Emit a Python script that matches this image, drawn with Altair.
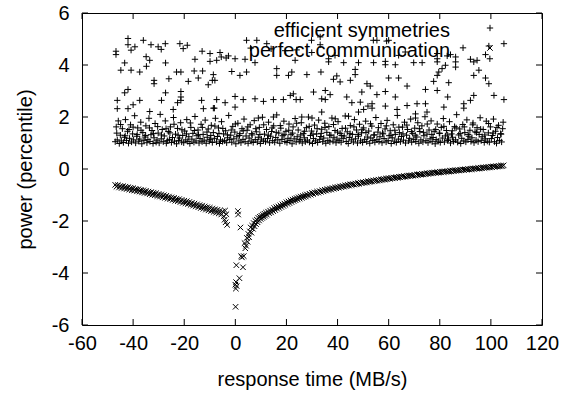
import altair as alt
import pandas as pd

x_ticks = [-60, -40, -20, 0, 20, 40, 60, 80, 100, 120]
y_ticks = [-6, -4, -2, 0, 2, 4, 6]
legend_labels = ["efficient symmetries", "perfect communication"]

# "efficient symmetries": sparse upper points
sym_upper = [
    (-42, 5.02), (-42, 4.78), (-36, 4.95), (-33, 4.78), (-40.8, 4.57), (-39.3, 4.7), (-46.7, 4.53), (-46.7, 4.4),
    (-30.2, 4.7), (-29, 4.6), (-27.4, 4.82), (-21.7, 4.82), (-18.8, 4.76), (-20.4, 4.63), (-13, 4.53), (-9.9, 4.44),
    (-9.9, 4.14), (-15.8, 4.22), (-34.9, 4.32), (-33.5, 4.18), (-43.3, 4.08), (-44.8, 3.8), (-40.8, 3.8), (-37.4, 3.73),
    (-34.8, 3.95), (-27.3, 4.08), (-23, 3.73), (-21.3, 3.73), (-16.1, 3.77), (-12.8, 3.77), (-8.6, 3.63), (-9, 3.41),
    (-10.6, 3.24), (-18.4, 3.37), (-14.5, 3.5), (-31.8, 3.41), (-31.8, 3.28), (-26, 3.47), (-27.3, 2.93), (-21.3, 2.98),
    (-21.3, 2.77), (-21.3, 2.64), (-22.6, 2.55), (-42, 3.06), (-43.3, 2.93), (-46.2, 2.64), (-37.4, 2.64), (-28.9, 2.64),
    (-46.2, 2.32), (-42, 2.32), (-40, 2.47), (-24.3, 2.29), (-33.5, 2.21), (-13.2, 2.64), (-12.5, 2.32), (-8.2, 2.34),
    (4.4, 4.95), (8.4, 4.95), (12.3, 4.82), (-7.3, 4.18), (-5.5, 4.31), (-2.7, 4.35), (-0.1, 4.24), (-6, 4.48),
    (-3.6, 4.27), (3.8, 4.22), (7.7, 4.09), (23.4, 4.18), (29.9, 4.48), (33.2, 4.78), (-1.4, 3.75), (1.8, 3.6),
    (4.4, 3.73), (16.2, 3.86), (16.2, 3.6), (22.1, 3.73), (28, 3.63), (20.8, 3.6), (33.5, 3.73), (-8, 3.41),
    (-7.3, 2.67), (-4, 2.55), (3.1, 2.67), (7.7, 2.7), (11, 2.6), (14.9, 2.67), (18.8, 2.67), (21.5, 2.83),
    (23.8, 2.67), (25.4, 2.67), (22.7, 2.89), (30.6, 2.96), (33.8, 2.7), (-0.1, 2.79), (-0.1, 2.38), (9, 1.96),
    (14.9, 2.0), (26, 2.0), (30, 1.96), (-8.6, 2.34), (6.0, 4.65), (14.0, 4.62), (19.5, 4.55), (24.0, 4.58),
    (29.8, 4.95), (33.2, 5.08), (54.0, 4.95), (59.2, 4.92), (66.5, 4.5), (39.0, 4.37),
    (55.4, 4.95), (60, 4.95), (63.9, 4.37), (36.5, 4.24), (36.5, 4.12), (42.4, 4.09), (48.2, 4.09), (54.1, 4.09),
    (58.7, 4.14), (58.7, 4.01), (62.6, 4.01), (69.8, 4.09), (73.1, 4.09), (46.9, 3.83), (46.9, 3.63), (38.4, 3.45),
    (39.7, 3.58), (41, 3.35), (45, 3.41), (51.5, 3.28), (52.8, 3.19), (60, 3.5), (63.9, 3.5), (67.2, 3.19),
    (74.4, 3.06), (35.2, 3.02), (35.2, 2.67), (37.1, 2.86), (43.6, 2.77), (49.5, 2.96), (55.4, 2.86), (58.7, 2.98),
    (62.6, 2.77), (67.2, 2.44), (45.6, 2.55), (48.9, 2.57), (53.5, 2.51), (53.5, 2.34), (51.9, 2.42), (50.2, 2.29),
    (58.7, 2.42), (63.3, 2.29), (71.1, 2.51), (33.8, 2.19), (44.3, 2.03), (48.2, 2.19), (70.5, 2.12), (70.5, 1.96),
    (75, 2.19), (39.1, 1.93),
    (105.1, 4.82), (99.2, 4.73), (89.1, 4.66), (97.9, 4.4), (99.6, 4.24), (92, 4.22), (93.3, 4.12), (94.6, 4.18),
    (79, 4.44), (79, 4.24), (79, 4.12), (82.9, 4.35), (84.2, 4.4), (86.2, 4.31), (86.2, 4.12), (86.2, 3.92),
    (82.2, 3.99), (80.9, 3.86), (79.6, 3.73), (79, 3.6), (95.3, 3.8), (93.3, 3.6), (97.9, 3.5), (99.2, 3.28),
    (83.5, 3.32), (77.6, 3.37), (79, 3.02), (83.1, 2.77), (93.3, 2.83), (101.2, 2.83), (105.1, 2.67), (92, 2.64),
    (89.4, 2.51), (89.4, 2.34), (81.6, 2.38), (74.4, 2.51),
]

# "efficient symmetries": dense band between 1 and 2
sym_band = [
    (-47.0, 1.05), (-46.6, 1.62), (-46.2, 1.12), (-45.8, 1.85), (-45.4, 0.98), (-45.0, 1.30), (-44.6, 1.08), (-44.2, 1.55), (-43.8, 1.02), (-43.4, 1.22),
    (-43.0, 1.90), (-42.6, 1.10), (-42.2, 1.45), (-41.8, 0.99), (-41.4, 1.18), (-41.0, 1.70), (-40.6, 1.04), (-40.2, 1.35), (-39.8, 1.12), (-39.4, 2.05),
    (-39.0, 1.00), (-38.6, 1.26), (-38.2, 1.58), (-37.8, 1.07), (-37.4, 1.15), (-37.0, 1.80), (-36.6, 0.97), (-36.2, 1.40), (-35.8, 1.09), (-35.4, 1.23),
    (-35.0, 1.66), (-34.6, 1.01), (-34.2, 1.13), (-33.8, 1.95), (-33.4, 1.06), (-33.0, 1.32), (-32.6, 1.48), (-32.2, 0.98), (-31.8, 1.20), (-31.4, 1.75),
    (-31.0, 1.03), (-30.6, 1.11), (-30.2, 1.38), (-29.8, 1.00), (-29.4, 2.10), (-29.0, 1.16), (-28.6, 1.52), (-28.2, 1.05), (-27.8, 1.27), (-27.4, 1.85),
    (-27.0, 0.99), (-26.6, 1.09), (-26.2, 1.44), (-25.8, 1.14), (-25.4, 1.62), (-25.0, 1.02), (-24.6, 1.21), (-24.2, 1.98), (-23.8, 1.07), (-23.4, 1.34),
    (-23.0, 0.97), (-22.6, 1.56), (-22.2, 1.10), (-21.8, 1.19), (-21.4, 1.78), (-21.0, 1.04), (-20.6, 1.29), (-20.2, 1.01), (-19.8, 1.46), (-19.4, 1.12),
    (-19.0, 1.90), (-18.6, 1.06), (-18.2, 1.24), (-17.8, 0.98), (-17.4, 1.60), (-17.0, 1.15), (-16.6, 1.37), (-16.2, 1.03), (-15.8, 2.02), (-15.4, 1.08),
    (-15.0, 1.28), (-14.6, 1.50), (-14.2, 1.00), (-13.8, 1.17), (-13.4, 1.72), (-13.0, 1.05), (-12.6, 1.33), (-12.2, 1.11), (-11.8, 1.88), (-11.4, 0.99),
    (-11.0, 1.22), (-10.6, 1.54), (-10.2, 1.07), (-9.8, 1.14), (-9.4, 1.68), (-9.0, 1.02), (-8.6, 1.40), (-8.2, 1.18), (-7.8, 1.95), (-7.4, 1.04),
    (-7.0, 1.25), (-6.6, 1.58), (-6.2, 0.98), (-5.8, 1.12), (-5.4, 1.82), (-5.0, 1.06), (-4.6, 1.35), (-4.2, 1.09), (-3.8, 1.47), (-3.4, 1.01),
    (-3.0, 1.20), (-2.6, 2.06), (-2.2, 1.13), (-1.8, 1.30), (-1.4, 1.03), (-1.0, 1.64), (-0.6, 1.16), (-0.2, 1.42), (0.2, 0.97), (0.6, 1.24),
    (1.0, 1.76), (1.4, 1.08), (1.8, 1.36), (2.2, 1.01), (2.6, 1.55), (3.0, 1.14), (3.4, 1.92), (3.8, 1.05), (4.2, 1.27), (4.6, 1.49),
    (5.0, 0.99), (5.4, 1.19), (5.8, 1.70), (6.2, 1.07), (6.6, 1.31), (7.0, 1.02), (7.4, 1.86), (7.8, 1.13), (8.2, 1.43), (8.6, 1.04),
    (9.0, 1.22), (9.4, 1.60), (9.8, 0.98), (10.2, 1.15), (10.6, 1.99), (11.0, 1.08), (11.4, 1.34), (11.8, 1.05), (12.2, 1.52), (12.6, 1.17),
    (13.0, 1.80), (13.4, 1.01), (13.8, 1.26), (14.2, 1.44), (14.6, 1.09), (15.0, 1.66), (15.4, 1.03), (15.8, 1.21), (16.2, 2.08), (16.6, 1.12),
    (17.0, 1.38), (17.4, 0.99), (17.8, 1.57), (18.2, 1.14), (18.6, 1.28), (19.0, 1.84), (19.4, 1.06), (19.8, 1.45), (20.2, 1.02), (20.6, 1.18),
    (21.0, 1.73), (21.4, 1.10), (21.8, 1.32), (22.2, 0.97), (22.6, 1.62), (23.0, 1.16), (23.4, 1.94), (23.8, 1.04), (24.2, 1.24), (24.6, 1.50),
    (25.0, 1.07), (25.4, 1.13), (25.8, 1.78), (26.2, 1.00), (26.6, 1.36), (27.0, 1.20), (27.4, 1.05), (27.8, 1.59), (28.2, 1.11), (28.6, 2.00),
    (29.0, 1.03), (29.4, 1.29), (29.8, 1.46), (30.2, 0.98), (30.6, 1.17), (31.0, 1.69), (31.4, 1.08), (31.8, 1.35), (32.2, 1.02), (32.6, 1.88),
    (33.0, 1.14), (33.4, 1.25), (33.8, 1.53), (34.2, 1.05), (34.6, 1.19), (35.0, 1.76), (35.4, 0.99), (35.8, 1.41), (36.2, 1.10), (36.6, 1.63),
    (37.0, 1.04), (37.4, 1.30), (37.8, 1.96), (38.2, 1.07), (38.6, 1.22), (39.0, 1.48), (39.4, 1.01), (39.8, 1.15), (40.2, 1.82), (40.6, 1.09),
    (41.0, 1.37), (41.4, 1.03), (41.8, 1.56), (42.2, 1.18), (42.6, 1.27), (43.0, 2.04), (43.4, 1.06), (43.8, 1.43), (44.2, 0.98), (44.6, 1.21),
    (45.0, 1.67), (45.4, 1.12), (45.8, 1.33), (46.2, 1.04), (46.6, 1.90), (47.0, 1.16), (47.4, 1.50), (47.8, 1.00), (48.2, 1.26), (48.6, 1.72),
    (49.0, 1.08), (49.4, 1.39), (49.8, 1.02), (50.2, 1.58), (50.6, 1.14), (51.0, 1.84), (51.4, 1.05), (51.8, 1.23), (52.2, 1.46), (52.6, 0.99),
    (53.0, 1.19), (53.4, 1.65), (53.8, 1.10), (54.2, 1.31), (54.6, 1.03), (55.0, 1.98), (55.4, 1.13), (55.8, 1.42), (56.2, 1.06), (56.6, 1.24),
    (57.0, 1.75), (57.4, 1.01), (57.8, 1.35), (58.2, 1.17), (58.6, 1.54), (59.0, 1.04), (59.4, 1.87), (59.8, 1.09), (60.2, 1.28), (60.6, 1.47),
    (61.0, 0.98), (61.4, 1.20), (61.8, 1.70), (62.2, 1.07), (62.6, 1.33), (63.0, 1.02), (63.4, 2.06), (63.8, 1.15), (64.2, 1.40), (64.6, 1.05),
    (65.0, 1.25), (65.4, 1.61), (65.8, 1.11), (66.2, 1.80), (66.6, 1.00), (67.0, 1.30), (67.4, 1.52), (67.8, 1.08), (68.2, 1.18), (68.6, 1.92),
    (69.0, 1.03), (69.4, 1.37), (69.8, 1.14), (70.2, 1.57), (70.6, 1.06), (71.0, 1.23), (71.4, 1.78), (71.8, 0.99), (72.2, 1.44), (72.6, 1.12),
    (73.0, 1.66), (73.4, 1.04), (73.8, 1.28), (74.2, 2.01), (74.6, 1.09), (75.0, 1.34), (75.4, 1.01), (75.8, 1.50), (76.2, 1.16), (76.6, 1.85),
    (77.0, 1.05), (77.4, 1.21), (77.8, 1.45), (78.2, 0.97), (78.6, 1.13), (79.0, 1.73), (79.4, 1.07), (79.8, 1.38), (80.2, 1.02), (80.6, 1.60),
    (81.0, 1.19), (81.4, 1.94), (81.8, 1.04), (82.2, 1.27), (82.6, 1.48), (83.0, 1.10), (83.4, 1.15), (83.8, 1.82), (84.2, 1.00), (84.6, 1.35),
    (85.0, 1.22), (85.4, 1.06), (85.8, 1.63), (86.2, 1.12), (86.6, 2.09), (87.0, 1.03), (87.4, 1.31), (87.8, 1.54), (88.2, 0.98), (88.6, 1.18),
    (89.0, 1.71), (89.4, 1.08), (89.8, 1.40), (90.2, 1.04), (90.6, 1.89), (91.0, 1.14), (91.4, 1.26), (91.8, 1.49), (92.2, 1.06), (92.6, 1.20),
    (93.0, 1.77), (93.4, 1.01), (93.8, 1.43), (94.2, 1.11), (94.6, 1.59), (95.0, 1.05), (95.4, 1.33), (95.8, 1.97), (96.2, 1.09), (96.6, 1.24),
    (97.0, 1.52), (97.4, 1.02), (97.8, 1.16), (98.2, 1.84), (98.6, 1.07), (99.0, 1.39), (99.4, 1.03), (99.8, 1.62), (100.2, 1.17), (100.6, 1.29),
    (101.0, 1.92), (101.4, 1.05), (101.8, 1.45), (102.2, 0.99), (102.6, 1.21), (103.0, 1.68), (103.4, 1.10), (103.8, 1.36), (104.2, 1.04), (104.6, 1.55),
]

# "efficient symmetries": extra points filling the middle of the band
sym_band_mid = [
    (-46.4, 1.38), (-44.9, 1.71), (-43.1, 1.28), (-41.6, 1.52), (-40.0, 1.61), (-38.4, 1.33), (-36.9, 1.49), (-35.1, 1.29), (-33.6, 1.58), (-32.0, 1.36),
    (-30.4, 1.63), (-28.9, 1.31), (-27.1, 1.55), (-25.6, 1.39), (-24.0, 1.72), (-22.4, 1.30), (-20.9, 1.51), (-19.1, 1.35), (-17.6, 1.77), (-16.0, 1.48),
    (-14.4, 1.32), (-12.9, 1.60), (-11.1, 1.42), (-9.6, 1.29), (-8.0, 1.65), (-6.4, 1.37), (-4.9, 1.56), (-3.1, 1.31), (-1.6, 1.50), (0.0, 1.73),
    (1.6, 1.29), (3.1, 1.47), (4.9, 1.62), (6.4, 1.36), (8.0, 1.55), (9.6, 1.33), (11.1, 1.70), (12.9, 1.30), (14.4, 1.58), (16.0, 1.41),
    (17.6, 1.67), (19.1, 1.32), (20.9, 1.49), (22.4, 1.38), (24.0, 1.76), (25.6, 1.31), (27.1, 1.45), (28.9, 1.64), (30.4, 1.34), (32.0, 1.55),
    (33.6, 1.37), (35.1, 1.60), (36.9, 1.30), (38.4, 1.71), (40.0, 1.42), (41.6, 1.29), (43.1, 1.57), (44.9, 1.36), (46.4, 1.62), (48.0, 1.33),
    (49.6, 1.51), (51.1, 1.40), (52.9, 1.74), (54.4, 1.31), (56.0, 1.59), (57.6, 1.38), (59.1, 1.66), (60.9, 1.30), (62.4, 1.49), (64.0, 1.61),
    (65.6, 1.35), (67.1, 1.69), (68.9, 1.44), (70.4, 1.30), (72.0, 1.55), (73.6, 1.41), (75.1, 1.73), (76.9, 1.33), (78.4, 1.52), (80.0, 1.37),
    (81.6, 1.64), (83.1, 1.31), (84.9, 1.47), (86.4, 1.58), (88.0, 1.36), (89.6, 1.62), (91.1, 1.33), (92.9, 1.70), (94.4, 1.40), (96.0, 1.53),
    (97.6, 1.31), (99.1, 1.75), (100.9, 1.38), (102.4, 1.60), (104.0, 1.34), (104.8, 1.80),
]

# "perfect communication": left branch
comm_left = [
    (-47.0, -0.61), (-46.5, -0.68), (-46.0, -0.62), (-45.5, -0.71), (-45.0, -0.65), (-44.5, -0.73), (-44.0, -0.66), (-43.5, -0.75), (-43.0, -0.68), (-42.5, -0.77),
    (-42.0, -0.70), (-41.5, -0.79), (-41.0, -0.72), (-40.5, -0.82), (-40.0, -0.74), (-39.5, -0.83), (-39.0, -0.76), (-38.5, -0.86), (-38.0, -0.78), (-37.5, -0.87),
    (-37.0, -0.80), (-36.5, -0.90), (-36.0, -0.82), (-35.5, -0.92), (-35.0, -0.84), (-34.5, -0.94), (-34.0, -0.87), (-33.5, -0.97), (-33.0, -0.89), (-32.5, -0.99),
    (-32.0, -0.91), (-31.5, -1.01), (-31.0, -0.93), (-30.5, -1.04), (-30.0, -0.96), (-29.5, -1.06), (-29.0, -0.98), (-28.5, -1.09), (-28.0, -1.01), (-27.5, -1.11),
    (-27.0, -1.03), (-26.5, -1.14), (-26.0, -1.06), (-25.5, -1.16), (-25.0, -1.09), (-24.5, -1.19), (-24.0, -1.11), (-23.5, -1.22), (-23.0, -1.14), (-22.5, -1.24),
    (-22.0, -1.16), (-21.5, -1.27), (-21.0, -1.19), (-20.5, -1.30), (-20.0, -1.22), (-19.5, -1.32), (-19.0, -1.24), (-18.5, -1.35), (-18.0, -1.27), (-17.5, -1.38),
    (-17.0, -1.30), (-16.5, -1.41), (-16.0, -1.33), (-15.5, -1.44), (-15.0, -1.36), (-14.5, -1.47), (-14.0, -1.39), (-13.5, -1.50), (-13.0, -1.41), (-12.5, -1.53),
    (-12.0, -1.44), (-11.5, -1.56), (-11.0, -1.47), (-10.5, -1.59), (-10.0, -1.49), (-9.5, -1.62), (-9.0, -1.52), (-8.5, -1.65), (-8.0, -1.55), (-7.5, -1.68),
    (-7.0, -1.57), (-6.5, -1.71), (-6.0, -1.60), (-5.5, -1.75), (-5.0, -1.63), (-4.5, -1.82), (-4.2, -1.95), (-4.0, -1.60), (-3.8, -2.05), (-3.5, -1.74), (-3.2, -2.15),
]

# "perfect communication": right branch
comm_right = [
    (0.0, -4.45), (0.1, -5.30), (0.2, -4.60), (0.3, -4.35), (0.4, -3.70), (0.5, -4.50), (1.0, -1.62), (1.1, -1.75), (1.6, -4.20), (2.0, -2.25),
    (2.3, -3.35), (2.6, -3.40), (3.0, -3.78), (3.3, -3.35), (3.6, -2.85), (3.9, -3.05), (4.2, -2.95), (4.5, -2.65), (4.8, -2.80), (5.1, -2.50),
    (5.4, -2.62), (5.7, -2.40), (6.0, -2.25), (6.3, -2.45), (6.6, -2.18), (6.9, -2.30), (7.2, -2.08), (7.5, -2.20), (7.8, -2.00), (8.1, -2.12),
    (8.4, -1.95), (8.7, -2.05), (9.0, -1.88), (9.3, -1.98), (9.6, -1.84), (9.9, -1.92), (10.2, -1.80), (10.5, -1.88), (10.8, -1.76), (11.1, -1.84),
    (11.4, -1.72), (11.7, -1.80), (12.0, -1.68), (12.4, -1.76), (12.8, -1.64), (13.2, -1.70), (13.6, -1.60), (14.0, -1.67), (14.4, -1.56), (14.8, -1.62),
    (15.2, -1.50), (15.6, -1.58), (16.0, -1.47), (16.4, -1.53), (16.8, -1.44), (17.2, -1.50), (17.6, -1.40), (18.0, -1.46), (18.4, -1.36), (18.8, -1.42),
    (19.2, -1.33), (19.6, -1.38), (20.0, -1.28), (20.4, -1.34), (20.8, -1.25), (21.2, -1.31), (21.6, -1.21), (22.0, -1.27), (22.4, -1.18), (22.8, -1.23),
    (23.2, -1.15), (23.6, -1.20), (24.0, -1.12), (24.4, -1.17), (24.8, -1.09), (25.2, -1.14), (25.6, -1.06), (26.0, -1.11), (26.4, -1.04), (26.8, -1.08),
    (27.2, -1.01), (27.6, -1.06), (28.0, -0.98), (28.5, -1.02), (29.0, -0.95), (29.5, -0.99), (30.0, -0.92), (30.5, -0.96), (31.0, -0.90), (31.5, -0.93),
    (32.0, -0.87), (32.5, -0.91), (33.0, -0.85), (33.5, -0.88), (34.0, -0.82), (34.5, -0.86), (35.0, -0.80), (35.5, -0.83), (36.0, -0.77), (36.5, -0.81),
    (37.0, -0.75), (37.5, -0.79), (38.0, -0.73), (38.5, -0.76), (39.0, -0.71), (39.5, -0.74), (40.0, -0.69), (40.5, -0.72), (41.0, -0.67), (41.5, -0.70),
    (42.0, -0.65), (42.5, -0.68), (43.0, -0.63), (43.5, -0.66), (44.0, -0.61), (44.5, -0.64), (45.0, -0.59), (45.5, -0.62), (46.0, -0.58), (46.5, -0.60),
    (47.0, -0.56), (47.5, -0.59), (48.0, -0.54), (48.5, -0.57), (49.0, -0.52), (49.5, -0.55), (50.0, -0.51), (50.5, -0.53), (51.0, -0.49), (51.5, -0.52),
    (52.0, -0.47), (52.5, -0.50), (53.0, -0.46), (53.5, -0.48), (54.0, -0.44), (54.5, -0.47), (55.0, -0.43), (55.5, -0.45), (56.0, -0.41), (56.5, -0.44),
    (57.0, -0.40), (57.5, -0.42), (58.0, -0.38), (58.5, -0.41), (59.0, -0.37), (59.5, -0.39), (60.0, -0.35), (60.5, -0.38), (61.0, -0.34), (61.5, -0.36),
    (62.0, -0.33), (62.5, -0.35), (63.0, -0.31), (63.5, -0.34), (64.0, -0.30), (64.5, -0.32), (65.0, -0.29), (65.5, -0.31), (66.0, -0.27), (66.5, -0.30),
    (67.0, -0.26), (67.5, -0.28), (68.0, -0.25), (68.5, -0.27), (69.0, -0.24), (69.5, -0.26), (70.0, -0.22), (70.5, -0.25), (71.0, -0.21), (71.5, -0.23),
    (72.0, -0.20), (72.5, -0.22), (73.0, -0.19), (73.5, -0.21), (74.0, -0.18), (74.5, -0.20), (75.0, -0.16), (75.5, -0.19), (76.0, -0.15), (76.5, -0.17),
    (77.0, -0.14), (77.5, -0.16), (78.0, -0.13), (78.5, -0.15), (79.0, -0.12), (79.5, -0.14), (80.0, -0.11), (80.5, -0.13), (81.0, -0.10), (81.5, -0.12),
    (82.0, -0.09), (82.5, -0.11), (83.0, -0.08), (83.5, -0.10), (84.0, -0.07), (84.5, -0.09), (85.0, -0.06), (85.5, -0.08), (86.0, -0.05), (86.5, -0.07),
    (87.0, -0.04), (87.5, -0.06), (88.0, -0.03), (88.5, -0.05), (89.0, -0.02), (89.5, -0.04), (90.0, -0.01), (90.5, -0.03), (91.0, 0.00), (91.5, -0.02),
    (92.0, 0.01), (92.5, -0.01), (93.0, 0.02), (93.5, 0.00), (94.0, 0.03), (94.5, 0.01), (95.0, 0.04), (95.5, 0.02), (96.0, 0.05), (96.5, 0.03),
    (97.0, 0.06), (97.5, 0.04), (98.0, 0.07), (98.5, 0.05), (99.0, 0.08), (99.5, 0.06), (100.0, 0.09), (100.5, 0.07), (101.0, 0.10), (101.5, 0.08),
    (102.0, 0.11), (102.5, 0.09), (103.0, 0.12), (103.5, 0.10), (104.0, 0.13), (104.5, 0.11), (105.0, 0.14),
]

W, H = 460, 312
FONT = "Liberation Sans"
FS = 20
PLUS = "M-1,0L1,0M0,-1L0,1"
CROSS = "M-1,-1L1,1M-1,1L1,-1"
PLUS_SIZE = 40
CROSS_SIZE = 30

sym = pd.DataFrame(sym_upper + sym_band + sym_band_mid, columns=["x", "y"])
comm = pd.DataFrame(comm_left + comm_right, columns=["x", "y"])
xt = pd.DataFrame({"x": x_ticks})
yt = pd.DataFrame({"y": y_ticks})

xs = alt.Scale(domain=[x_ticks[0], x_ticks[-1]], nice=False, zero=False)
ys = alt.Scale(domain=[y_ticks[0], y_ticks[-1]], nice=False, zero=False)

x_axis = alt.Axis(values=x_ticks, labelExpr="'' + datum.value", title="response time (MB/s)",
                  titleY=54, titleBaseline="middle", labelPadding=8, labelFlush=False)
y_axis = alt.Axis(values=y_ticks, labelExpr="'' + datum.value", title="power (percentile)",
                  titleX=-57, titleBaseline="middle", labelPadding=13, labelFlush=False)

X = alt.X("x:Q", scale=xs, axis=x_axis)
Y = alt.Y("y:Q", scale=ys, axis=y_axis)

sym_layer = alt.Chart(sym).mark_point(shape=PLUS, filled=False, size=PLUS_SIZE, strokeWidth=1,
                                       color="black", opacity=1).encode(x=X, y=Y)
comm_layer = alt.Chart(comm).mark_point(shape=CROSS, filled=False, size=CROSS_SIZE, strokeWidth=1,
                                         color="black", opacity=1).encode(x=X, y=Y)

tick_style = dict(color="black", strokeWidth=1)
tb = alt.Chart(xt).mark_rule(**tick_style).encode(x=X, y=alt.value(H), y2=alt.value(H - 6))
tt = alt.Chart(xt).mark_rule(**tick_style).encode(x=X, y=alt.value(0), y2=alt.value(6))
tl = alt.Chart(yt).mark_rule(**tick_style).encode(y=Y, x=alt.value(0), x2=alt.value(6))
tr = alt.Chart(yt).mark_rule(**tick_style).encode(y=Y, x=alt.value(W), x2=alt.value(W - 6))

leg1 = alt.Chart(pd.DataFrame({"t": [legend_labels[0]]})).mark_text(
    align="right", baseline="alphabetic", font=FONT, fontSize=FS, color="black").encode(
    text="t:N", x=alt.value(368), y=alt.value(23.5))
leg2 = alt.Chart(pd.DataFrame({"t": [legend_labels[1]]})).mark_text(
    align="right", baseline="alphabetic", font=FONT, fontSize=FS, color="black").encode(
    text="t:N", x=alt.value(368), y=alt.value(43.5))
s1 = alt.Chart(pd.DataFrame({"t": [legend_labels[0]]})).mark_point(
    shape=PLUS, filled=False, size=PLUS_SIZE, strokeWidth=1, color="black", opacity=1).encode(
    x=alt.value(408), y=alt.value(15))
s2 = alt.Chart(pd.DataFrame({"t": [legend_labels[1]]})).mark_point(
    shape=CROSS, filled=False, size=CROSS_SIZE, strokeWidth=1, color="black", opacity=1).encode(
    x=alt.value(408), y=alt.value(35))

chart = alt.layer(sym_layer, comm_layer, tb, tt, tl, tr, leg1, leg2, s1, s2).properties(
    width=W, height=H,
    padding={"left": 82, "top": 13, "right": 29, "bottom": 68},
    autosize=alt.AutoSizeParams(type="none"),
    background="white",
).configure_view(stroke="black", strokeWidth=1).configure_axis(
    domain=False, ticks=False, tickSize=0, grid=False,
    labelFont=FONT, labelFontSize=FS, labelColor="black",
    titleFont=FONT, titleFontSize=FS, titleColor="black", titleFontWeight="normal",
)

chart.save("out.html", embed_options={"renderer": "svg", "actions": False})
